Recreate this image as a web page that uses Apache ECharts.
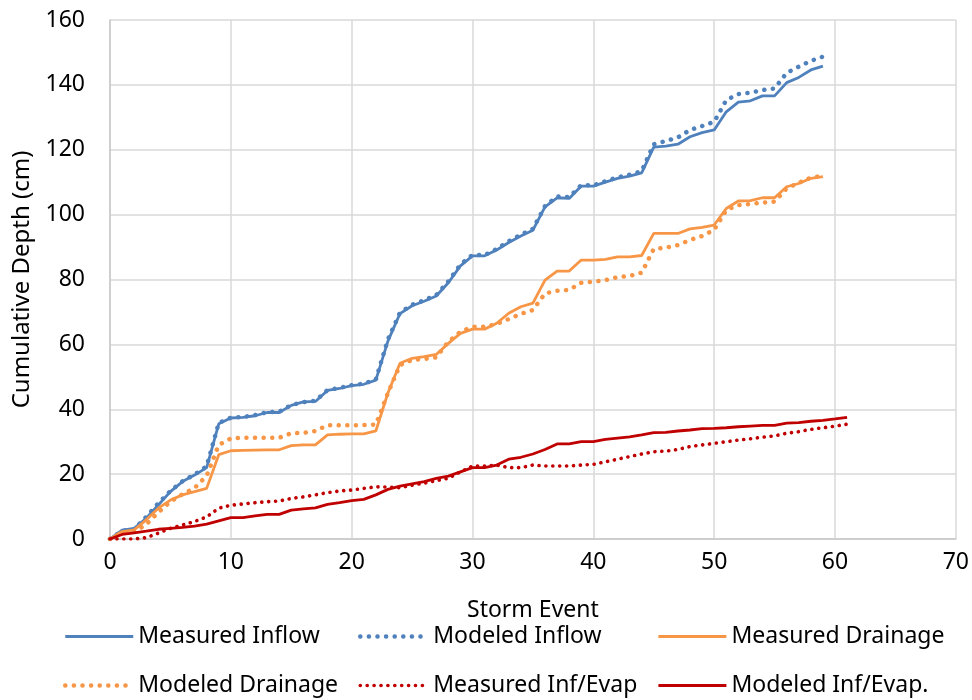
<!DOCTYPE html>
<html>
<head>
<meta charset="utf-8">
<title>Cumulative Depth</title>
<script src="https://cdn.jsdelivr.net/npm/echarts@6/dist/echarts.min.js"></script>
<style>
  html, body { margin: 0; padding: 0; background: #fff; }
  #main { width: 972px; height: 700px; }
</style>
</head>
<body>
<div id="main"></div>
<script>
// cumulative depth (cm) per storm event, index = event number
var measuredInflow = [0, 2.7, 3.3, 6.4, 10.5, 14.6, 17.7, 19.7, 22, 35.5,
  37.3, 37.5, 38, 39, 39, 41.2, 42.3, 42.4, 45.8, 46.4,
  47.3, 47.7, 49, 61, 69.5, 71.9, 73.3, 74.9, 79, 84.2,
  87.3, 87.3, 89.1, 91.4, 93.4, 95.2, 102.4, 105.2, 105, 108.8,
  108.8, 110, 111.2, 111.9, 112.9, 120.8, 121.1, 121.7, 124, 125.3,
  126.1, 131.7, 134.7, 135.1, 136.6, 136.6, 140.7, 142.3, 144.6, 145.8];
var modeledInflow = [0, 2.5, 3, 6.8, 11, 14.8, 17.8, 19.9, 22.4, 35.8,
  37.4, 37.6, 38.2, 39.1, 39.2, 41.3, 42.2, 42.6, 45.9, 46.6,
  47.4, 47.9, 49.2, 61.5, 69.8, 72.2, 73.6, 75.2, 79.4, 84.6,
  87.6, 87.5, 89.4, 91.8, 93.8, 95.6, 102.6, 105.6, 105.4, 109.1,
  109, 110.3, 111.5, 112.3, 113.4, 121.7, 122.7, 123.8, 126.1, 127.3,
  128.6, 135.3, 137.2, 137.6, 138.4, 138.9, 143.7, 145.6, 147.4, 148.7];
var measuredDrainage = [0, 2.3, 2.8, 5.9, 9.5, 12, 13.6, 14.6, 15.6, 26,
  27.2, 27.3, 27.4, 27.5, 27.5, 28.8, 29, 29, 32.1, 32.3,
  32.4, 32.4, 33.3, 45, 54.2, 55.7, 56.2, 56.9, 60.3, 63.4,
  64.7, 64.7, 66.5, 69.6, 71.6, 72.7, 79.8, 82.6, 82.6, 86,
  86, 86.2, 87, 87, 87.4, 94.2, 94.2, 94.2, 95.6, 96.1,
  96.8, 101.9, 104.2, 104.3, 105.2, 105.2, 108.6, 109.6, 111.2, 111.7];
var modeledDrainage = [0, 2, 2.2, 4.5, 8.2, 11.5, 13.8, 15.7, 19.5, 29,
  31, 31.2, 31.2, 31.2, 31.2, 32.6, 32.7, 33.3, 35.1, 35.1,
  35.1, 35.1, 35.3, 45, 53.6, 55.2, 55.5, 56, 60.8, 63.9,
  65.4, 65.4, 66.3, 67.8, 69.4, 70.6, 75.7, 76.5, 76.8, 79,
  79.3, 79.8, 80.7, 81.1, 82.1, 89.4, 89.8, 90.6, 92.2, 93.4,
  95.3, 101.4, 102.9, 103.3, 103.7, 104, 108.1, 109.8, 111.4, 112];
var measuredInfEvap = [0, 0, 0, 0.4, 1.8, 3.3, 4.3, 5.4, 6.8, 9.5,
  10.4, 10.8, 11.2, 11.5, 11.7, 12.5, 13, 13.6, 14.3, 14.8,
  15.1, 15.6, 16.1, 16, 15.8, 16.6, 17.2, 18, 18.7, 20.7,
  22.5, 22.5, 22.8, 22, 22, 22.8, 22.5, 22.5, 22.5, 22.8,
  23, 23.8, 24.6, 25.4, 26.2, 26.9, 27.1, 27.6, 28.5, 29,
  29.5, 30, 30.5, 30.9, 31.4, 31.8, 32.6, 33.1, 33.8, 34.3,
  34.8, 35.4];
var modeledInfEvap = [0, 1.4, 1.9, 2.4, 3, 3.3, 3.6, 4, 4.6, 5.6,
  6.6, 6.6, 7.1, 7.6, 7.6, 8.9, 9.3, 9.6, 10.7, 11.2,
  11.8, 12.2, 13.6, 15.3, 16.3, 17, 17.7, 18.7, 19.4, 20.7,
  22, 22, 22.8, 24.6, 25.2, 26.2, 27.6, 29.3, 29.3, 30,
  30, 30.7, 31.1, 31.5, 32.1, 32.8, 32.9, 33.3, 33.6, 34,
  34.1, 34.3, 34.6, 34.8, 35, 35, 35.7, 35.9, 36.3, 36.6,
  37, 37.5];

var seriesNames = ['Measured Inflow', 'Modeled Inflow', 'Measured Drainage',
  'Modeled Drainage', 'Measured Inf/Evap', 'Modeled Inf/Evap.'];

// pair each value with its storm event number
function pairs(values) {
  return values.map(function (v, i) { return [i, v]; });
}

var font = '"Noto Sans", "Open Sans", sans-serif';
var blue = '#4f81bd', orange = '#f79646', red = '#c00000';

function solid(color) {
  return { color: color, width: 2.8, type: 'solid' };
}
function dotted(color, w, gap) {
  return { color: color, width: w, type: [0.1, gap], cap: 'round' };
}

var styles = [
  solid(blue), dotted(blue, 4.5, 8.5),
  solid(orange), dotted(orange, 4.5, 8.5),
  dotted(red, 3.6, 6.8), solid(red)
];
var colors = [blue, blue, orange, orange, red, red];
var datasets = [measuredInflow, modeledInflow, measuredDrainage,
  modeledDrainage, measuredInfEvap, modeledInfEvap];

var myChart = echarts.init(document.getElementById('main'));

// three legend columns, two rows each
function legendColumn(left, idx) {
  return {
    orient: 'vertical',
    left: left,
    top: 625,
    padding: 0,
    itemWidth: 68,
    itemHeight: 14,
    itemGap: 26,
    itemStyle: { opacity: 0 },
    textStyle: { fontFamily: font, fontSize: 23, color: '#000' },
    selectedMode: false,
    data: idx.map(function (i) {
      return { name: seriesNames[i], lineStyle: styles[i] };
    })
  };
}

var option = {
  animation: false,
  grid: { left: 110, right: 15, top: 20, bottom: 161 },
  legend: [
    legendColumn(63, [0, 3]),
    legendColumn(358, [1, 4]),
    legendColumn(657, [2, 5])
  ],
  xAxis: {
    type: 'value',
    min: 0,
    max: 70,
    interval: 10,
    name: 'Storm Event',
    nameLocation: 'middle',
    nameGap: 60,
    nameTextStyle: { fontFamily: font, fontSize: 23, color: '#000' },
    axisLine: { lineStyle: { color: '#c8c8c8', width: 1.5 } },
    axisTick: { show: false },
    axisLabel: { fontFamily: font, fontSize: 23, color: '#000', margin: 12 },
    splitLine: { lineStyle: { color: '#d9d9d9', width: 1.5 } }
  },
  yAxis: {
    type: 'value',
    min: 0,
    max: 160,
    interval: 20,
    name: 'Cumulative Depth (cm)',
    nameLocation: 'middle',
    nameGap: 76,
    nameTextStyle: { fontFamily: font, fontSize: 24, color: '#000' },
    axisLine: { show: true, lineStyle: { color: '#c8c8c8', width: 1.5 } },
    axisTick: { show: false },
    axisLabel: { fontFamily: font, fontSize: 23, color: '#000', margin: 25 },
    splitLine: { lineStyle: { color: '#d9d9d9', width: 1.5 } }
  },
  series: seriesNames.map(function (name, i) {
    return {
      name: name,
      type: 'line',
      symbol: 'none',
      color: colors[i],
      lineStyle: styles[i],
      data: pairs(datasets[i])
    };
  })
};

myChart.setOption(option);
</script>
</body>
</html>
